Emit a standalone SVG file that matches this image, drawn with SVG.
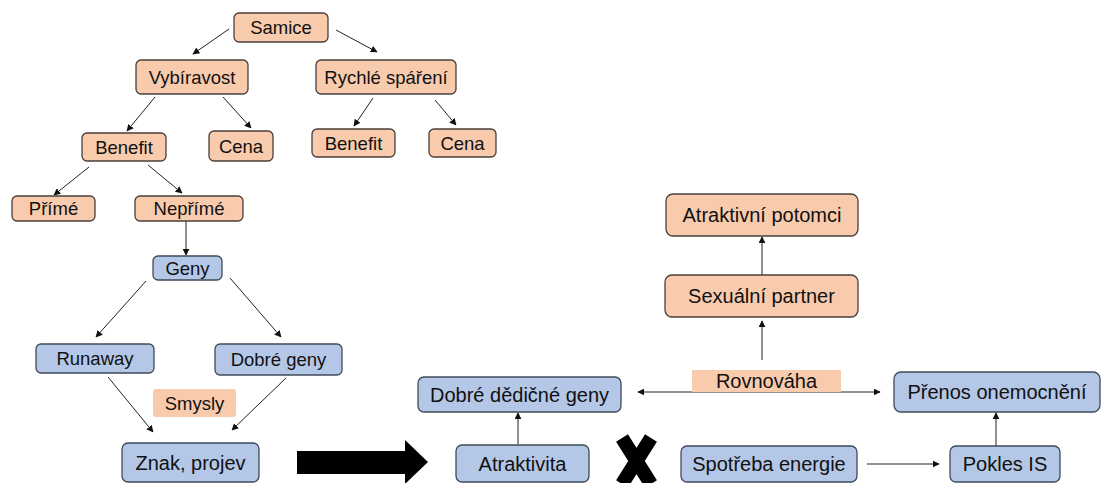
<svg xmlns="http://www.w3.org/2000/svg" width="1104" height="483" viewBox="0 0 1104 483">
<style>
.p{fill:#F8CBAD;stroke:#4a3f3a;stroke-width:1.3}
.b{fill:#B4C7E7;stroke:#3f4a5a;stroke-width:1.3}
.pn{fill:#F8CBAD;stroke:none}
text{font-family:"Liberation Sans",Arial,sans-serif;font-size:18.5px;fill:#111;text-anchor:middle;dominant-baseline:central}
text.l{font-size:20px}
.c line{stroke:#222;stroke-width:1}
</style>
<defs>
<marker id="a" viewBox="0 0 10 10" refX="9" refY="5" markerWidth="7" markerHeight="7" orient="auto-start-reverse" markerUnits="userSpaceOnUse"><path d="M0,0 L10,5 L0,10 z" fill="#111"/></marker>
</defs>
<rect width="1104" height="483" fill="#fff"/>
<g class="c">
<line x1="229" y1="29" x2="193" y2="54" marker-end="url(#a)"/>
<line x1="336" y1="30" x2="377" y2="52" marker-end="url(#a)"/>
<line x1="155" y1="97" x2="127" y2="131" marker-end="url(#a)"/>
<line x1="223" y1="97" x2="251" y2="128" marker-end="url(#a)"/>
<line x1="373" y1="98" x2="354" y2="126" marker-end="url(#a)"/>
<line x1="435" y1="100" x2="456" y2="125" marker-end="url(#a)"/>
<line x1="89" y1="167" x2="54" y2="195" marker-end="url(#a)"/>
<line x1="148" y1="165" x2="182" y2="193" marker-end="url(#a)"/>
<line x1="186" y1="221" x2="186" y2="255" marker-end="url(#a)"/>
<line x1="146" y1="281" x2="96" y2="337" marker-end="url(#a)"/>
<line x1="230" y1="278" x2="281" y2="337" marker-end="url(#a)"/>
<line x1="108" y1="377" x2="153" y2="432" marker-end="url(#a)"/>
<line x1="286" y1="378" x2="232" y2="430" marker-end="url(#a)"/>
<line x1="762" y1="275" x2="762" y2="237" marker-end="url(#a)"/>
<line x1="762" y1="360" x2="762" y2="321" marker-end="url(#a)"/>
<line x1="638" y1="392" x2="880" y2="392" marker-start="url(#a)" marker-end="url(#a)"/>
<line x1="518" y1="444" x2="518" y2="413" marker-end="url(#a)"/>
<line x1="996" y1="446" x2="996" y2="413" marker-end="url(#a)"/>
<line x1="867" y1="464" x2="939" y2="464" marker-end="url(#a)"/>
</g>
<g id="samice"><rect class="p" x="234" y="13" width="94" height="29" rx="5"/><text x="281" y="27.5">Samice</text></g>
<g id="vybiravost"><rect class="p" x="136" y="60" width="112" height="34" rx="5"/><text x="192" y="77">Vybíravost</text></g>
<g id="rychle"><rect class="p" x="316" y="60" width="140" height="34" rx="5"/><text x="386" y="77">Rychlé spáření</text></g>
<g id="benefit1"><rect class="p" x="82" y="133" width="84" height="28" rx="5"/><text x="124" y="147">Benefit</text></g>
<g id="cena1"><rect class="p" x="209" y="131" width="64" height="30" rx="5"/><text x="241" y="146">Cena</text></g>
<g id="benefit2"><rect class="p" x="312" y="129" width="83" height="28" rx="5"/><text x="353.5" y="143">Benefit</text></g>
<g id="cena2"><rect class="p" x="429" y="129" width="67" height="28" rx="5"/><text x="462.5" y="143">Cena</text></g>
<g id="prime"><rect class="p" x="12" y="196" width="83" height="25" rx="5"/><text x="53.5" y="208.5">Přímé</text></g>
<g id="neprime"><rect class="p" x="135" y="196" width="108" height="25" rx="5"/><text x="189" y="208.5">Nepřímé</text></g>
<g id="geny"><rect class="b" x="153" y="256" width="69" height="24" rx="5"/><text x="187.5" y="268">Geny</text></g>
<g id="runaway"><rect class="b" x="36" y="344" width="118" height="29" rx="5"/><text x="95" y="358.5">Runaway</text></g>
<g id="dobregeny"><rect class="b" x="215" y="344" width="127" height="31" rx="5"/><text x="278.5" y="359.5">Dobré geny</text></g>
<g id="smysly"><rect class="pn" x="153" y="389" width="83" height="28" rx="3"/><text x="194.5" y="403">Smysly</text></g>
<g id="znak"><rect class="b" x="122" y="443" width="137" height="39" rx="6"/><text class="l" x="190.5" y="462.5">Znak, projev</text></g>
<g id="bigarrow"><polygon points="297,451 405,451 405,440 428,462 405,484 405,474 297,474" fill="#000"/></g>
<g id="potomci"><rect class="p" x="666" y="194" width="192" height="42" rx="7"/><text class="l" x="762" y="215">Atraktivní potomci</text></g>
<g id="partner"><rect class="p" x="665" y="275" width="193" height="42" rx="7"/><text class="l" x="761.5" y="296">Sexuální partner</text></g>
<g id="rovnovaha"><rect class="pn" x="692" y="370" width="149" height="22"/><text class="l" x="766.5" y="381">Rovnováha</text></g>
<g id="dedicne"><rect class="b" x="418" y="377" width="203" height="35" rx="6"/><text class="l" x="519.5" y="394.5">Dobré dědičné geny</text></g>
<g id="prenos"><rect class="b" x="894" y="372" width="206" height="40" rx="7"/><text class="l" x="997" y="392">Přenos onemocnění</text></g>
<g id="atraktivita"><rect class="b" x="456" y="445" width="133" height="37" rx="6"/><text class="l" x="522.5" y="463.5">Atraktivita</text></g>
<g id="xmark"><path d="M622,438 L651,484 M651,438 L622,484" stroke="#000" stroke-width="14"/></g>
<g id="spotreba"><rect class="b" x="681" y="446" width="176" height="36" rx="6"/><text class="l" x="769" y="464">Spotřeba energie</text></g>
<g id="pokles"><rect class="b" x="950" y="446" width="110" height="36" rx="6"/><text class="l" x="1005" y="464">Pokles IS</text></g>
</svg>
